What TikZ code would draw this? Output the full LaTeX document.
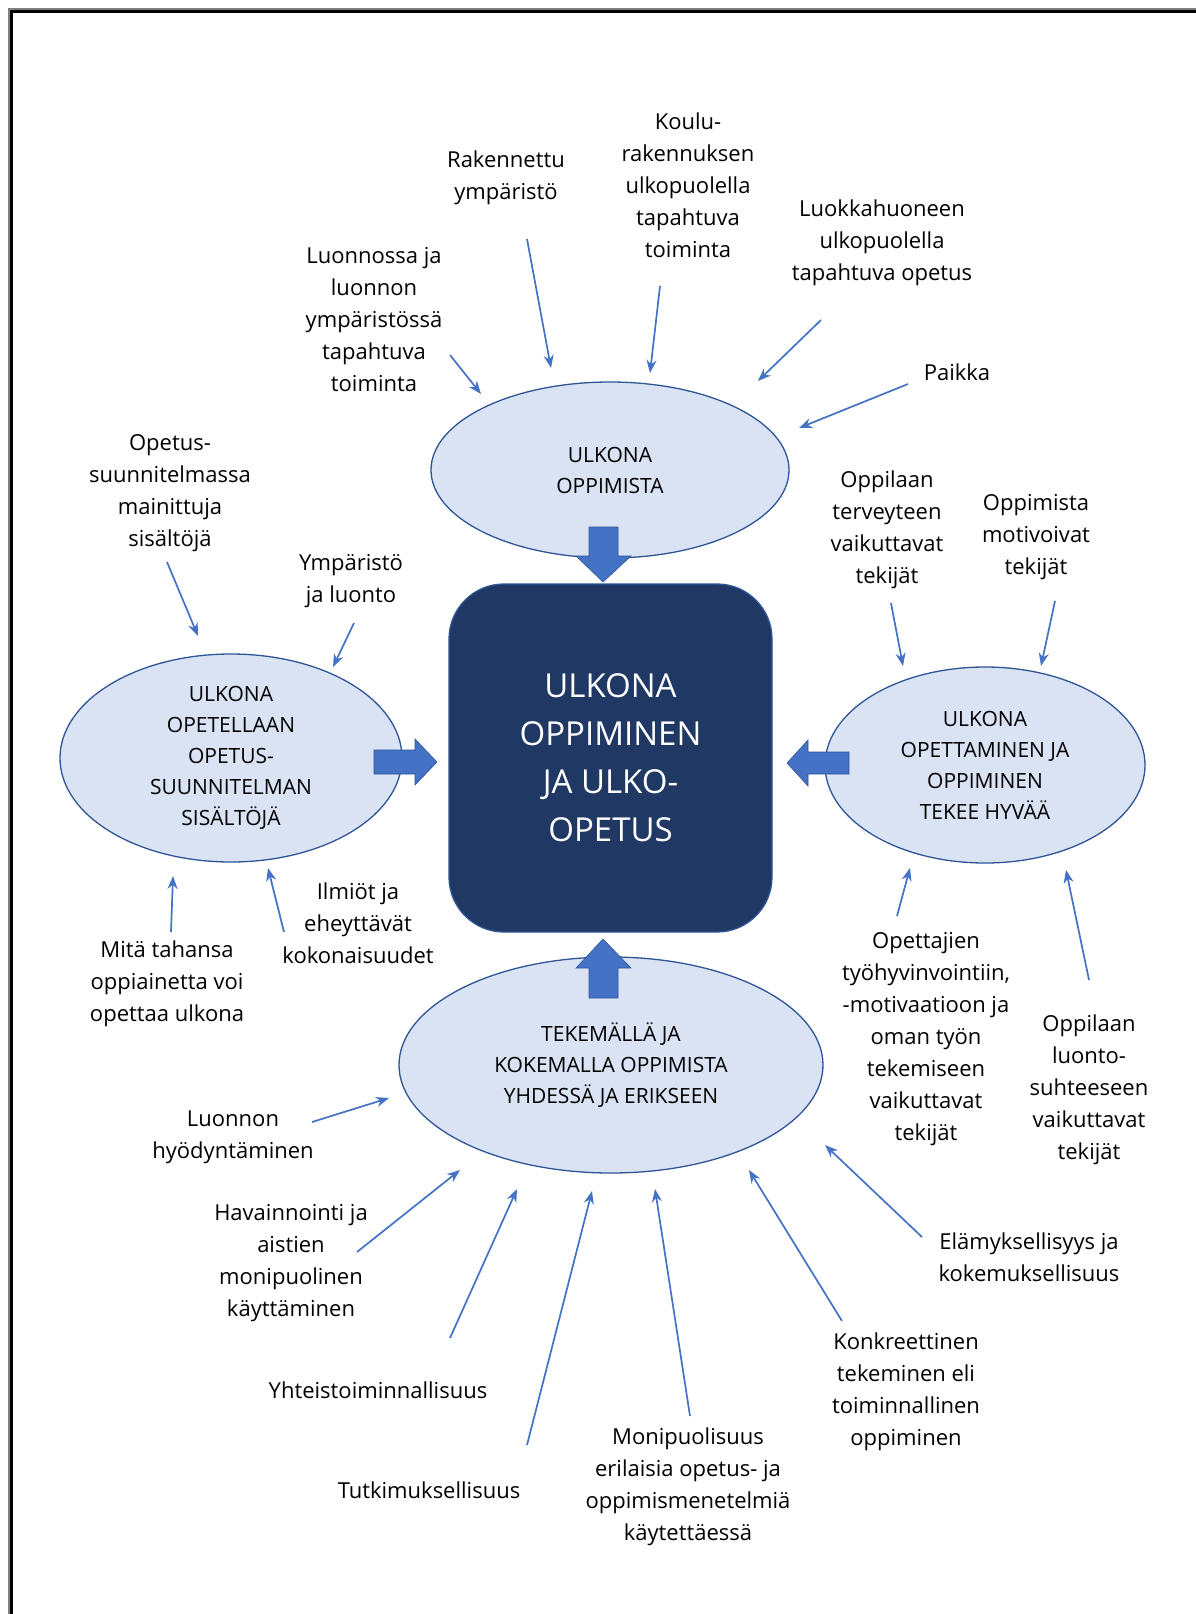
\documentclass[tikz,border=0pt]{standalone}
\usepackage{fontspec}
\setmainfont{Open Sans}
\usetikzlibrary{shapes.geometric,arrows.meta}
\definecolor{ellfill}{HTML}{DAE3F3}
\definecolor{ellline}{HTML}{2F5597}
\definecolor{pilblue}{HTML}{4472C4}
\definecolor{navy}{HTML}{203864}
\tikzset{
  lbl/.style={align=center,text=black,font=\fontsize{22}{32}\selectfont},
  ell/.style={ellipse,draw=ellline,line width=1.3pt,fill=ellfill,inner sep=0pt,
    align=center,text=black,font=\fontsize{21}{31}\selectfont},
  pil/.style={draw=pilblue,line width=1.7pt,-{Stealth[length=13pt,width=10pt]}},
  blk/.style={fill=pilblue,draw=ellline,line width=0.6pt}
}
\begin{document}
\begin{tikzpicture}[x=1pt,y=-1pt]
    \useasboundingbox (0,0) rectangle (1196,1614);
    \fill[white] (0,0) rectangle (1196,1614);
    \draw[gray,line width=2pt] (9,1614)--(9,9)--(1196,9);
    \draw[black,line width=3pt] (11.5,1614)--(11.5,11.5)--(1196,11.5);
    \node[ell,minimum width=358pt,minimum height=176pt] (T) at (610,470) {ULKONA\\OPPIMISTA};
    \node[ell,minimum width=342pt,minimum height=208pt] (L) at (231,758) {ULKONA\\OPETELLAAN\\OPETUS-\\SUUNNITELMAN\\SISÄLTÖJÄ};
    \node[ell,minimum width=320pt,minimum height=196pt] (R) at (985,765) {ULKONA\\OPETTAMINEN JA\\OPPIMINEN\\TEKEE HYVÄÄ};
    \node[ell,minimum width=424pt,minimum height=216pt] (B) at (611,1065) {TEKEMÄLLÄ JA\\KOKEMALLA OPPIMISTA\\YHDESSÄ JA ERIKSEEN};
    \node[draw=ellline,line width=1.3pt,fill=navy,rounded corners=55pt,minimum width=323pt,minimum height=348pt,
      text=white,align=center,font=\fontsize{33}{48}\selectfont] (C) at (610.5,758) {ULKONA\\OPPIMINEN\\JA ULKO-\\OPETUS};
    \draw[blk] (589,527)--(618,527)--(618,556)--(631,556)--(603,582)--(576,556)--(589,556)--cycle;
    \draw[blk] (589,998)--(618,998)--(618,968)--(631,968)--(603,939)--(576,968)--(589,968)--cycle;
    \draw[blk] (374,750)--(415,750)--(415,739)--(437,762)--(415,785)--(415,774)--(374,774)--cycle;
    \draw[blk] (849,752)--(808,752)--(808,740)--(787,763)--(808,786)--(808,774)--(849,774)--cycle;
    \node[lbl] (rak) at (506,178) {Rakennettu\\ympäristö};
    \node[lbl] (koulu) at (688,185) {Koulu-\\rakennuksen\\ulkopuolella\\tapahtuva\\toiminta};
    \node[lbl] (luokka) at (882,243) {Luokkahuoneen\\ulkopuolella\\tapahtuva opetus};
    \node[lbl] (paikka) at (957,372) {Paikka};
    \node[lbl] (luonto) at (374,320) {Luonnossa ja\\luonnon\\ympäristössä\\tapahtuva\\toiminta};
    \node[lbl] (ops) at (170,493) {Opetus-\\suunnitelmassa\\mainittuja\\sisältöjä};
    \node[lbl] (ymp) at (351,581) {Ympäristö\\ja luonto};
    \node[lbl] (ilmiot) at (358,923) {Ilmiöt ja\\eheyttävät\\kokonaisuudet};
    \node[lbl] (mita) at (167,984) {Mitä tahansa\\oppiainetta voi\\opettaa ulkona};
    \node[lbl] (terv) at (887,530) {Oppilaan\\terveyteen\\vaikuttavat\\tekijät};
    \node[lbl] (motiv) at (1036,537) {Oppimista\\motivoivat\\tekijät};
    \node[lbl] (opett) at (926,1039) {Opettajien\\työhyvinvointiin,\\-motivaatioon ja\\oman työn\\tekemiseen\\vaikuttavat\\tekijät};
    \node[lbl] (suhde) at (1089,1090) {Oppilaan\\luonto-\\suhteeseen\\vaikuttavat\\tekijät};
    \node[lbl] (hyod) at (233,1137) {Luonnon\\hyödyntäminen};
    \node[lbl] (hav) at (291,1263) {Havainnointi ja\\aistien\\monipuolinen\\käyttäminen};
    \node[lbl] (yht) at (378,1390) {Yhteistoiminnallisuus};
    \node[lbl] (tutk) at (429,1490) {Tutkimuksellisuus};
    \node[lbl] (moni) at (688,1487) {Monipuolisuus\\erilaisia opetus- ja\\oppimismenetelmiä\\käytettäessä};
    \node[lbl] (konk) at (906,1392) {Konkreettinen\\tekeminen eli\\toiminnallinen\\oppiminen};
    \node[lbl] (elam) at (1029,1257) {Elämyksellisyys ja\\kokemuksellisuus};
    \coordinate (a1) at (527,239); \coordinate (b1) at (551,368);
    \coordinate (a2) at (660,286); \coordinate (b2) at (650,373);
    \coordinate (a3) at (821,320); \coordinate (b3) at (758,381);
    \coordinate (a4) at (908,384); \coordinate (b4) at (799,428);
    \coordinate (a5) at (450,355); \coordinate (b5) at (481,394);
    \coordinate (a6) at (167,562); \coordinate (b6) at (198,636);
    \coordinate (a7) at (354,623); \coordinate (b7) at (333,667);
    \coordinate (a8) at (284,932); \coordinate (b8) at (268,868);
    \coordinate (a9) at (171,932); \coordinate (b9) at (173,876);
    \coordinate (a10) at (891,603); \coordinate (b10) at (903,666);
    \coordinate (a11) at (1055,601); \coordinate (b11) at (1041,666);
    \coordinate (a12) at (897,916); \coordinate (b12) at (910,868);
    \coordinate (a13) at (1089,980); \coordinate (b13) at (1066,870);
    \coordinate (a14) at (312,1122); \coordinate (b14) at (389,1098);
    \coordinate (a15) at (357,1252); \coordinate (b15) at (460,1170);
    \coordinate (a16) at (450,1338); \coordinate (b16) at (517,1189);
    \coordinate (a17) at (527,1445); \coordinate (b17) at (592,1191);
    \coordinate (a18) at (690,1416); \coordinate (b18) at (655,1189);
    \coordinate (a19) at (842,1321); \coordinate (b19) at (749,1170);
    \coordinate (a20) at (922,1237); \coordinate (b20) at (825,1145);
    \draw[pil] (a1)--(b1); \draw[pil] (a2)--(b2); \draw[pil] (a3)--(b3); \draw[pil] (a4)--(b4);
    \draw[pil] (a5)--(b5); \draw[pil] (a6)--(b6); \draw[pil] (a7)--(b7); \draw[pil] (a8)--(b8);
    \draw[pil] (a9)--(b9); \draw[pil] (a10)--(b10); \draw[pil] (a11)--(b11); \draw[pil] (a12)--(b12);
    \draw[pil] (a13)--(b13); \draw[pil] (a14)--(b14); \draw[pil] (a15)--(b15); \draw[pil] (a16)--(b16);
    \draw[pil] (a17)--(b17); \draw[pil] (a18)--(b18); \draw[pil] (a19)--(b19); \draw[pil] (a20)--(b20);
  \end{tikzpicture}
\end{document}
